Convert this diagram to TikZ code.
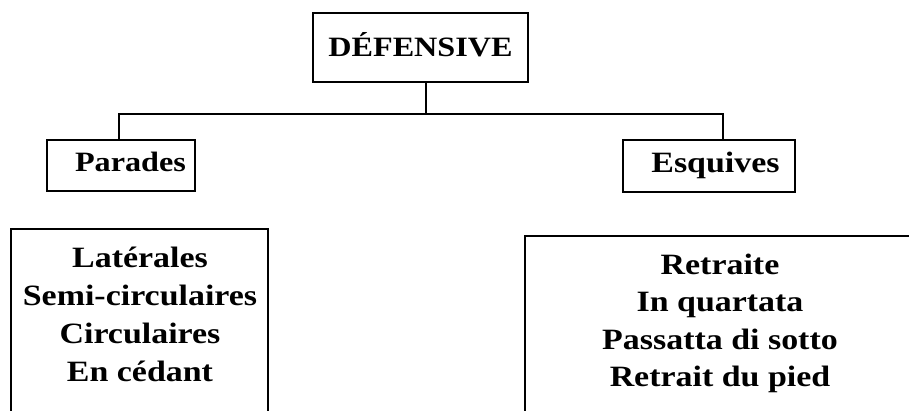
\documentclass[tikz,border=0pt]{standalone}
\usepackage{fontspec}
\setmainfont{Liberation Serif}[FakeStretch=1.15]
\begin{document}
\begin{tikzpicture}[x=1pt,y=-1pt,
  box/.style={draw, line width=1.8pt, inner sep=0pt},
  conn/.style={line width=1.8pt},
  lbl/.style={font=\fontsize{28}{38}\selectfont\bfseries, inner sep=0pt, anchor=base},
  list/.style={font=\fontsize{29.5}{38}\selectfont\bfseries, inner sep=0pt, align=center, anchor=north}]
\useasboundingbox (0,0) rectangle (909,411);
% boxes
\node[box, minimum width=215pt, minimum height=69pt] (def) at (420.5,47.5) {};
\node[box, minimum width=148pt, minimum height=51pt] (par) at (121,165.5) {};
\node[box, minimum width=172pt, minimum height=52pt] (esq) at (709,166) {};
% texts
\node[lbl] (tdef) at (420.5,57) {DÉFENSIVE};
\node[lbl] (tpar) at (130.5,172) {Parades};
\node[lbl, font=\fontsize{29.5}{38}\selectfont\bfseries] (tesq) at (715.5,173) {Esquives};
% open-bottom boxes
\coordinate (lat-tl) at (11,229);
\coordinate (lat-tr) at (268,229);
\coordinate (ret-tl) at (525,236);
\coordinate (ret-tr) at (915,236);
\draw[conn] (11,420) -- (lat-tl) -- (lat-tr) -- (268,420);
\draw[conn] (525,420) -- (ret-tl) -- (ret-tr);
\node[list] (lat) at (140,247) {Latérales\\Semi-circulaires\\Circulaires\\En cédant};
\node[list, font=\fontsize{29.5}{37.3}\selectfont\bfseries] (ret) at (720,254) {Retraite\\In quartata\\Passatta di sotto\\Retrait du pied};
% connectors
\coordinate (j) at (426,114);
\coordinate (jl) at (119,114);
\coordinate (jr) at (723,114);
\draw[conn] (def.south -| j) -- (j);
\draw[conn] (par.north -| jl) -- (jl) -- (jr) -- (esq.north -| jr);
\end{tikzpicture}
\end{document}
